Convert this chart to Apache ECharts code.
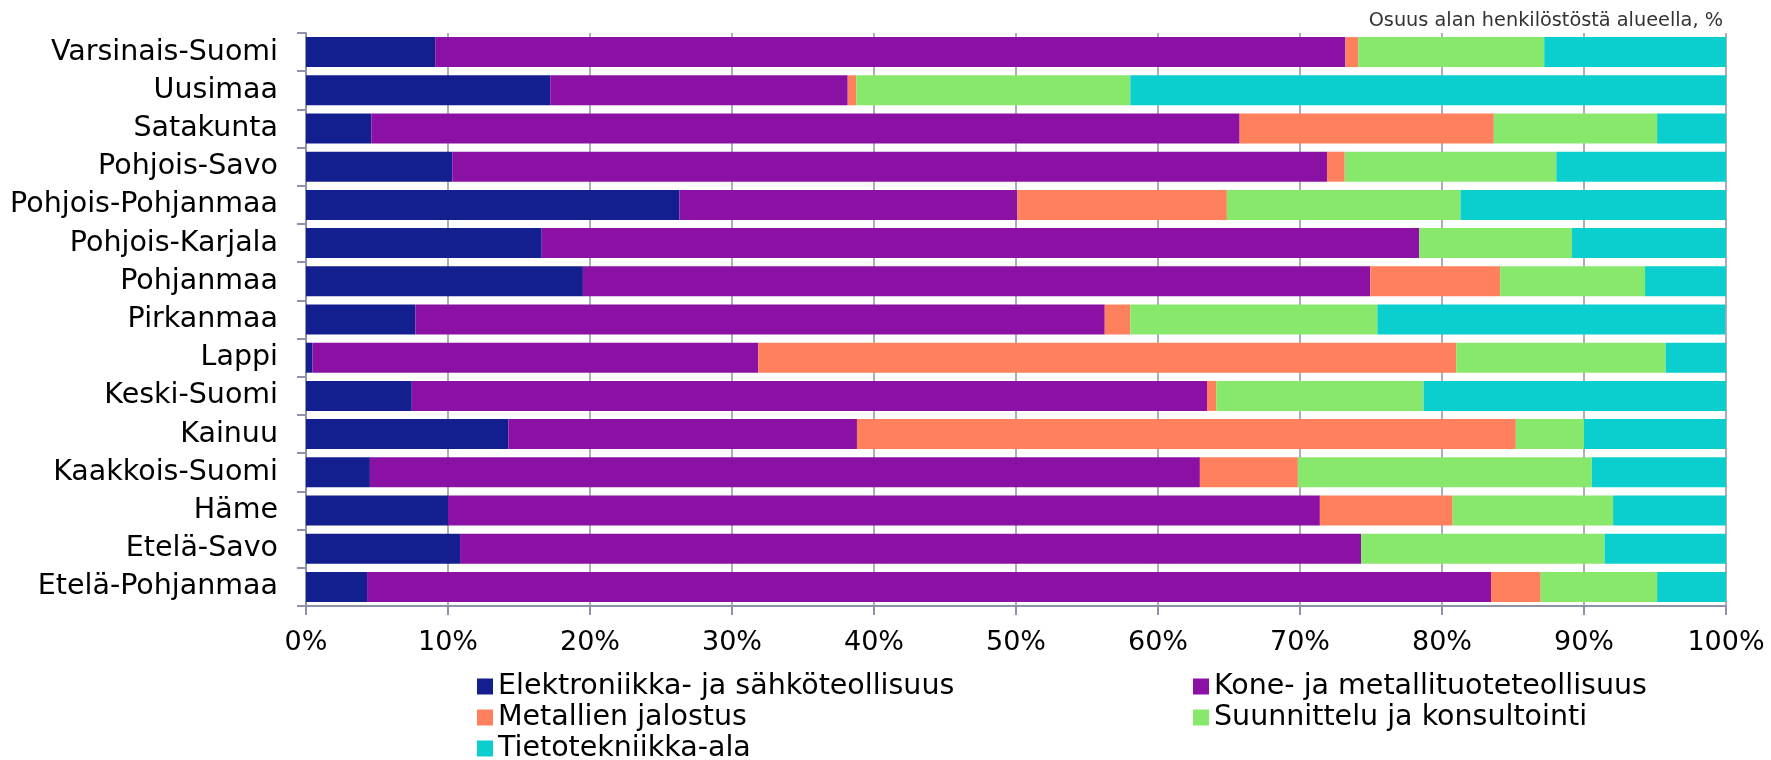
<!DOCTYPE html>
<html>
<head>
<meta charset="utf-8">
<script src="https://cdn.jsdelivr.net/npm/echarts@6/dist/echarts.min.js"></script>
<style>
html,body{margin:0;padding:0;background:#fff;}
#chart{width:1771px;height:760px;}
</style>
</head>
<body>
<div id="chart"></div>
<script>
const categories = ["Varsinais-Suomi","Uusimaa","Satakunta","Pohjois-Savo","Pohjois-Pohjanmaa","Pohjois-Karjala","Pohjanmaa","Pirkanmaa","Lappi","Keski-Suomi","Kainuu","Kaakkois-Suomi","Häme","Etelä-Savo","Etelä-Pohjanmaa"];
const seriesNames = ["Elektroniikka- ja sähköteollisuus","Kone- ja metallituoteteollisuus","Metallien jalostus","Suunnittelu ja konsultointi","Tietotekniikka-ala"];
const elektroniikka = [9.1, 17.2, 4.6, 10.3, 26.3, 16.6, 19.5, 7.7, 0.45, 7.45, 14.25, 4.5, 10.0, 10.85, 4.3];
const kone =          [64.1, 20.95, 61.15, 61.6, 23.8, 61.8, 55.45, 48.55, 31.4, 56.0, 24.55, 58.45, 61.4, 63.45, 79.15];
const metallien =     [0.9, 0.6, 17.9, 1.25, 14.75, 0, 9.15, 1.8, 49.15, 0.65, 46.4, 6.9, 9.35, 0, 3.5];
const suunnittelu =   [13.1, 19.3, 11.5, 14.9, 16.45, 10.75, 10.2, 17.4, 14.75, 14.6, 4.8, 20.7, 11.3, 17.15, 8.2];
const tietotekniikka =[12.8, 41.95, 4.85, 11.95, 18.7, 10.85, 5.7, 24.5, 4.25, 21.3, 10.0, 9.45, 8.0, 8.55, 4.85];
const xTicks = {min: 0, max: 100, interval: 10};
const titleText = "Osuus alan henkilöstöstä alueella, %";

const colors = ["#141f8f", "#8b10a4", "#ff805c", "#88e86c", "#0bcfcf"];
const values = [elektroniikka, kone, metallien, suunnittelu, tietotekniikka];
const FONT = "DejaVu Sans";
const GRID = "#8d92a6";

// legend placement: [series index, left, top]
const legendSlots = [[0, 477, 672], [2, 477, 703], [4, 477, 734], [1, 1193, 672], [3, 1193, 703]];

const chart = echarts.init(document.getElementById('chart'));
chart.setOption({
  animation: false,
  textStyle: {fontFamily: FONT},
  title: {
    text: titleText, right: 43, top: 6,
    textStyle: {fontFamily: FONT, fontSize: 19.3, fontWeight: 'normal', color: '#333'}
  },
  legend: legendSlots.map(s => ({
    orient: 'horizontal', left: s[1], top: s[2], padding: 0,
    itemWidth: 16, itemHeight: 16, icon: 'rect',
    data: [seriesNames[s[0]]],
    textStyle: {fontFamily: FONT, fontSize: 28.5, lineHeight: 28, color: '#000'}
  })),
  grid: {left: 306, right: 45, top: 33, bottom: 154, containLabel: false},
  xAxis: {
    type: 'value', min: xTicks.min, max: xTicks.max, interval: xTicks.interval,
    axisLabel: {formatter: '{value}%', fontFamily: FONT, fontSize: 27, color: '#000', margin: 23},
    axisLine: {show: true, lineStyle: {color: GRID, width: 2}},
    axisTick: {show: true, length: 9, lineStyle: {color: GRID, width: 2}},
    splitLine: {show: true, lineStyle: {color: GRID, width: 1.5}}
  },
  yAxis: {
    type: 'category', data: categories, inverse: true,
    axisLabel: {fontFamily: FONT, fontSize: 28.5, color: '#000', margin: 28},
    axisLine: {show: true, lineStyle: {color: GRID, width: 2}},
    axisTick: {show: true, length: 9, lineStyle: {color: GRID, width: 2}},
    splitLine: {show: false}
  },
  series: seriesNames.map((name, i) => ({
    name: name, type: 'bar', stack: 'total',
    data: values[i],
    barCategoryGap: '21.5%',
    itemStyle: {color: colors[i]},
    emphasis: {disabled: true}
  }))
});
</script>
</body>
</html>
